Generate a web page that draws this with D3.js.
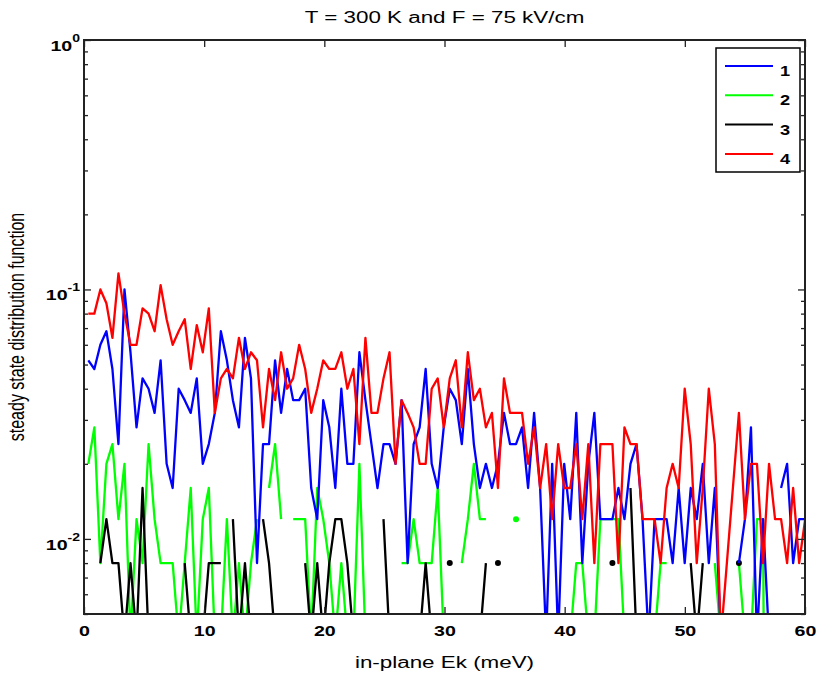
<!DOCTYPE html>
<html>
<head>
<meta charset="utf-8">
<script src="https://cdn.jsdelivr.net/npm/d3@7"></script>
<style>
  body { margin: 0; background: #fff; }
  text { font-family: "Liberation Sans", Arial, sans-serif; }
</style>
</head>
<body>
<svg width="819" height="677"></svg>
<script>
// energy grid of the simulation (meV)
var energyStart = 0.36, energyStep = 0.5013;

// steady state distribution, one value per energy bin (null = no point)
var band1 = [
  0.052, 0.048, 0.060, 0.068, 0.048, 0.024, 0.100, 0.056, 0.028, 0.044,
  0.040, 0.032, 0.052, 0.020, 0.016, 0.040, 0.036, 0.032, 0.044, 0.020,
  0.024, 0.032, 0.068, 0.052, 0.036, 0.028, 0.064, 0.044, 0.008, 0.024,
  0.024, 0.052, 0.032, 0.048, 0.036, 0.036, 0.040, 0.016, 0.012, 0.036,
  0.028, 0.016, 0.040, 0.020, 0.020, 0.056, 0.036, 0.024, 0.016, 0.024,
  0.024, 0.020, 0.036, 0.008, 0.024, 0.028, 0.048, 0.020, 0.016, 0.028,
  0.040, 0.036, 0.024, 0.048, 0.024, 0.016, 0.020, 0.016, 0.020, 0.032,
  0.024, 0.024, 0.028, 0.016, 0.032, 0.016, 0.004, 0.020, 0.004, 0.020,
  0.012, 0.032, 0.008, 0.020, 0.032, 0.012, 0.012, 0.012, 0.016, 0.012,
  0.020, 0.024, 0.012, 0.004, 0.012, 0.012, 0.012, 0.008, 0.016, 0.008,
  0.016, 0.012, 0.020, 0.008, 0.016, 0.004, null,  null,  0.008, 0.012,
  0.028, 0.004, 0.012, 0.004, null,  0.016, 0.020, 0.008, 0.012, 0.012
];
var band2 = [
  0.020, 0.028, 0.008, 0.020, 0.024, 0.012, 0.020, 0.004, 0.012, 0.008,
  0.024, 0.012, 0.008, 0.008, 0.008, 0.004, 0.008, 0.016, 0.004, 0.012,
  0.016, 0.004, 0.004, 0.012, 0.004, 0.008, 0.004, 0.008, 0.012, null,
  0.016, 0.024, 0.012, null,  0.012, 0.012, 0.012, 0.004, 0.016, 0.012,
  0.008, 0.004, 0.008, 0.004, 0.004, 0.020, 0.004, null,  null,  null,
  null,  null,  0.008, 0.008, 0.012, 0.008, 0.008, 0.008, 0.016, 0.004,
  null,  null,  0.008, 0.012, 0.020, 0.012, 0.012, null,  null,  null,
  null,  0.012, null,  null,  null,  null,  null,  null,  null,  null,
  0.004, 0.008, 0.008, 0.004, 0.004, 0.012, 0.012, 0.012, 0.012, 0.004,
  null,  null,  null,  null,  0.004, 0.008, 0.008, null,  null,  null,
  null,  null,  null,  null,  0.008, 0.004, null,  null,  0.008, 0.004,
  0.004, 0.012, 0.012, 0,     null,  null,  null,  null,  null,  null
];
var band3 = [
  null,  null,  0.008, 0.012, 0.008, 0.008, 0.004, 0.008, 0.004, 0.016,
  0.004, null,  null,  null,  null,  null,  0.008, 0.004, null,  0.004,
  0.008, 0.008, 0.008, null,  0.012, 0.004, 0.008, 0.004, null,  0.012,
  0.008, 0.004, null,  null,  null,  null,  0.008, 0.004, 0.008, 0.004,
  0.008, 0.012, 0.012, 0.008, 0.004, null,  null,  null,  null,  0.012,
  0.004, null,  null,  null,  null,  0.004, 0.008, 0.004, null,  null,
  0.008, null,  null,  null,  null,  0.004, 0.008, null,  0.008, null,
  null,  null,  null,  null,  null,  null,  null,  null,  null,  null,
  null,  null,  null,  null,  null,  null,  null,  0.008, null,  null,
  0.016, 0.004, null,  null,  null,  null,  null,  null,  null,  null,
  0.008, 0.004, 0.008, null,  null,  null,  null,  null,  0.008, null,
  null,  null,  null,  null,  null,  null,  null,  null,  null,  null
];
var band4 = [
  0.080, 0.080, 0.100, 0.088, 0.064, 0.116, 0.080, 0.060, 0.060, 0.084,
  0.080, 0.068, 0.104, 0.076, 0.060, 0.068, 0.076, 0.048, 0.072, 0.056,
  0.084, 0.032, 0.044, 0.048, 0.044, 0.064, 0.048, 0.056, 0.052, 0.028,
  0.048, 0.036, 0.056, 0.040, 0.044, 0.060, 0.048, 0.032, 0.040, 0.052,
  0.048, 0.048, 0.056, 0.040, 0.048, 0.024, 0.064, 0.032, 0.032, 0.044,
  0.056, 0.020, 0.036, 0.032, 0.028, 0.020, 0.020, 0.040, 0.044, 0.028,
  0.044, 0.052, 0.028, 0.056, 0.036, 0.040, 0.028, 0.032, 0.016, 0.044,
  0.032, 0.032, 0.032, 0.020, 0.028, 0.016, 0.024, 0.012, 0.024, 0.016,
  0.016, 0.024, 0.012, 0.024, 0.008, 0.024, 0.024, 0.024, 0.008, 0.028,
  0.024, 0.024, 0.012, 0.012, 0.012, 0.008, 0.016, 0.020, 0.016, 0.040,
  0.024, 0.008, 0.016, 0.040, 0.024, 0.004, 0.008, 0.016, 0.032, 0.012,
  0.020, 0.020, 0.008, 0.020, 0.012, 0.012, 0.008, 0.016, 0.008, 0.012
];

var xTicks = [0, 10, 20, 30, 40, 50, 60];
var yMajor = [0.01, 0.1, 1];
var yExponents = ["-2", "-1", "0"];
var legendNames = ["1", "2", "3", "4"];
var lineColors = ["#0000ff", "#00ff00", "#000000", "#ff0000"];

var svg = d3.select("svg");
var margin = {left: 84, right: 14, top: 40, bottom: 63};
var width = 819 - margin.left - margin.right;
var height = 677 - margin.top - margin.bottom;
// the figure text is drawn wide, as in the original export
var stretch = "scale(1.4,1)";

var x = d3.scaleLinear().domain([0, 60]).range([0, width]);
var y = d3.scaleLog().domain([0.005, 1]).range([height, 0]);

var energy = d3.range(band1.length).map(function(i) { return energyStart + i * energyStep; });
var bands = [band1, band2, band3, band4];

var g = svg.append("g").attr("transform", "translate(" + margin.left + "," + margin.top + ")");

svg.append("defs").append("clipPath").attr("id", "plotclip")
  .append("rect").attr("width", width).attr("height", height);

// zero values fall off the log axis: draw them far below so the segment drops out
var floorValue = 1e-6;
var line = d3.line()
  .defined(function(d) { return d[1] !== null; })
  .x(function(d) { return x(d[0]); })
  .y(function(d) { return y(Math.max(d[1], floorValue)); });

var plot = g.append("g").attr("clip-path", "url(#plotclip)");

// green and black underneath, blue and red on top
var drawOrder = [1, 2, 0, 3];
drawOrder.forEach(function(k) {
  var vals = bands[k];
  var pts = vals.map(function(v, i) { return [energy[i], v]; });
  plot.append("path")
    .datum(pts)
    .attr("fill", "none")
    .attr("stroke", lineColors[k])
    .attr("stroke-width", 2.3)
    .attr("stroke-linejoin", "round")
    .attr("d", line);

  // points with no neighbours show up as single dots
  var lone = pts.filter(function(d, i) {
    return d[1] !== null && vals[i - 1] == null && vals[i + 1] == null;
  });
  plot.selectAll(null).data(lone).enter().append("circle")
    .attr("cx", function(d) { return x(d[0]); })
    .attr("cy", function(d) { return y(d[1]); })
    .attr("r", 3)
    .attr("fill", lineColors[k]);
});

// axes box with inward ticks on all sides
var axisColor = "#222";
var xAxisB = d3.axisBottom(x).tickValues(xTicks).tickSize(-7).tickPadding(12).tickFormat(d3.format("d"));
var xAxisT = d3.axisTop(x).tickValues(xTicks).tickSize(-7).tickFormat("");
var gxb = g.append("g").attr("transform", "translate(0," + height + ")").call(xAxisB);
var gxt = g.append("g").call(xAxisT);

var minorTicks = y.ticks().filter(function(t) { return yMajor.indexOf(t) < 0; });
var yAxisL = d3.axisLeft(y).tickValues(yMajor).tickSize(-7).tickFormat("");
var yAxisR = d3.axisRight(y).tickValues(yMajor).tickSize(-7).tickFormat("");
var yMinL = d3.axisLeft(y).tickValues(minorTicks).tickSize(-4).tickFormat("");
var yMinR = d3.axisRight(y).tickValues(minorTicks).tickSize(-4).tickFormat("");
var gyl = g.append("g").call(yAxisL);
var gyr = g.append("g").attr("transform", "translate(" + width + ",0)").call(yAxisR);
var gyl2 = g.append("g").call(yMinL);
var gyr2 = g.append("g").attr("transform", "translate(" + width + ",0)").call(yMinR);

[gxb, gxt, gyl, gyr, gyl2, gyr2].forEach(function(a) {
  a.select(".domain").remove();
  a.selectAll(".tick line").attr("stroke", axisColor).attr("stroke-width", 1.3);
});
gxb.selectAll(".tick text")
  .attr("fill", "#000")
  .attr("transform", stretch)
  .style("font-size", "14px")
  .style("font-weight", "bold");

g.append("rect")
  .attr("width", width).attr("height", height)
  .attr("fill", "none")
  .attr("stroke", axisColor)
  .attr("stroke-width", 2);

// y tick labels as 10 with superscript exponent
yMajor.forEach(function(t, i) {
  var lab = g.append("g")
    .attr("transform", "translate(-4," + (y(t) + 11) + ") " + stretch)
    .append("text")
    .attr("text-anchor", "end")
    .style("font-size", "14px")
    .style("font-weight", "bold");
  lab.append("tspan").text("10");
  lab.append("tspan")
    .attr("dy", -9)
    .style("font-size", "10px")
    .text(yExponents[i]);
});

// title and axis labels
svg.append("text")
  .attr("transform", "translate(" + (margin.left + width / 2) + ",23) " + stretch)
  .attr("text-anchor", "middle")
  .style("font-size", "16px")
  .text("T = 300 K and F = 75 kV/cm");

svg.append("text")
  .attr("transform", "translate(" + (margin.left + width / 2) + ",668) " + stretch)
  .attr("text-anchor", "middle")
  .style("font-size", "16px")
  .text("in-plane Ek (meV)");

svg.append("text")
  .attr("transform", "translate(24," + (margin.top + height / 2) + ") " + stretch + " rotate(-90)")
  .attr("text-anchor", "middle")
  .style("font-size", "16px")
  .text("steady state distribution function");

// legend
var legend = svg.append("g").attr("transform", "translate(716,48)");
legend.append("rect")
  .attr("width", 84).attr("height", 124)
  .attr("fill", "#fff")
  .attr("stroke", "#000")
  .attr("stroke-width", 1.5);
legendNames.forEach(function(name, i) {
  var ly = 18 + i * 29.3;
  legend.append("line")
    .attr("x1", 9).attr("x2", 57)
    .attr("y1", ly).attr("y2", ly)
    .attr("stroke", lineColors[i])
    .attr("stroke-width", 2);
  legend.append("text")
    .attr("transform", "translate(64," + (ly + 10) + ") scale(1.3,1)")
    .style("font-size", "14px")
    .style("font-weight", "bold")
    .text(name);
});
</script>
</body>
</html>
